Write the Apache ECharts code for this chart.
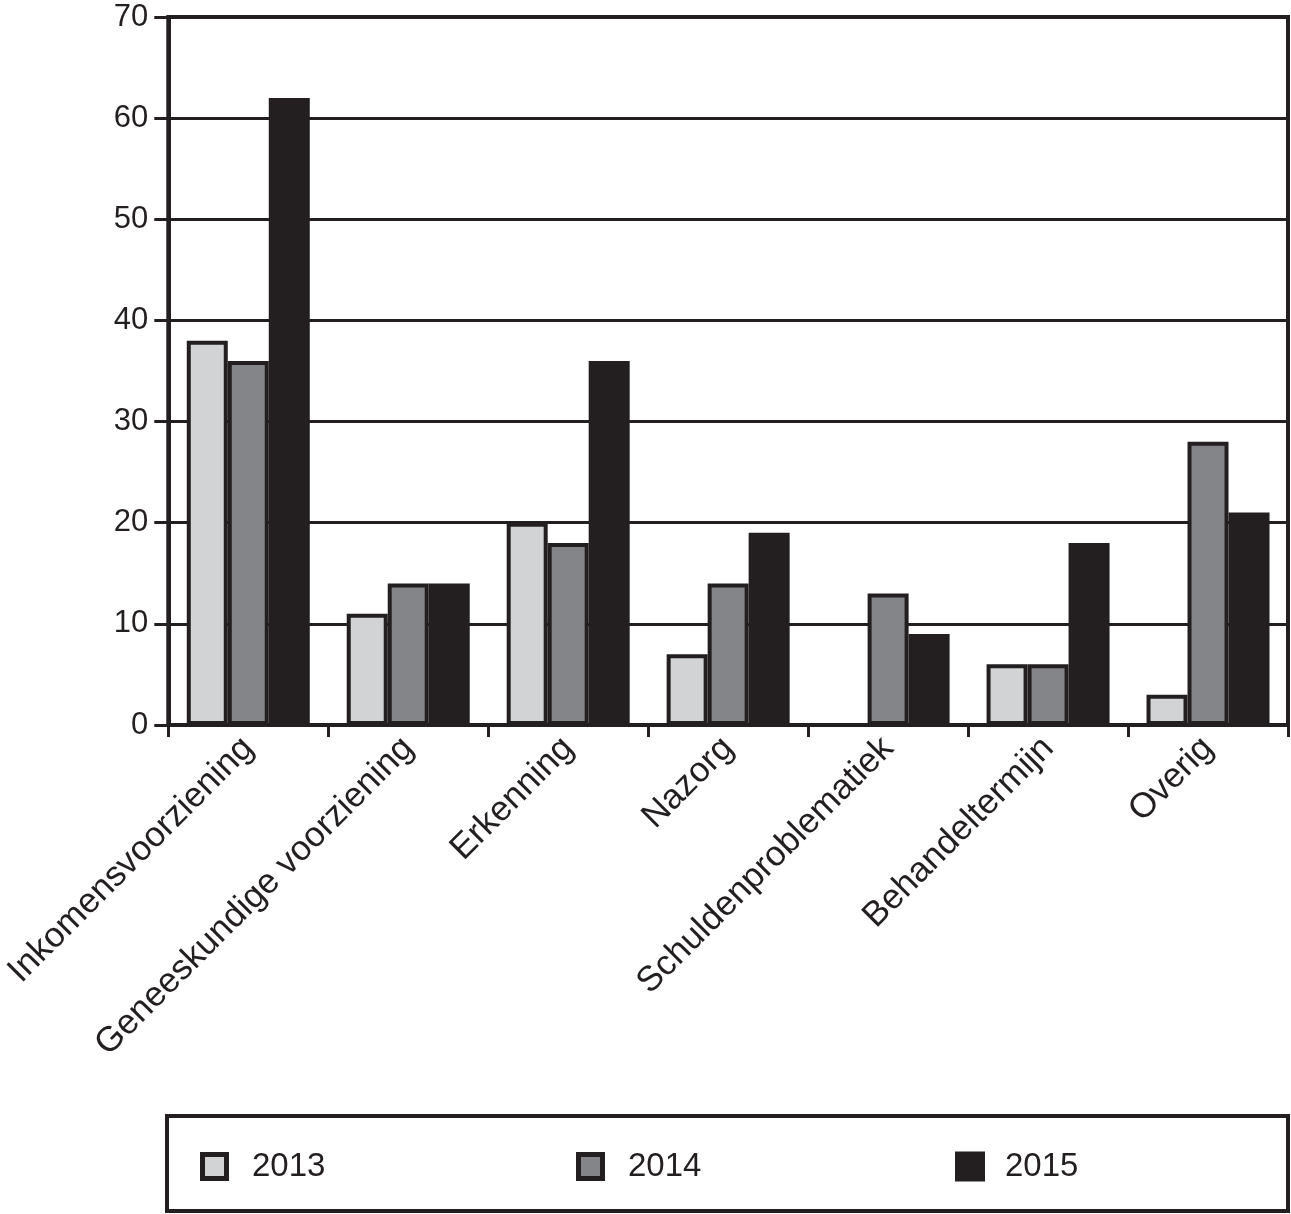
<!DOCTYPE html>
<html>
<head>
<meta charset="utf-8">
<script src="https://cdn.jsdelivr.net/npm/echarts@6/dist/echarts.min.js"></script>
<style>
html,body{margin:0;padding:0;background:#fff;}
#chart{width:1291px;height:1214px;}
</style>
</head>
<body>
<div id="chart"></div>
<script>
const categories = ['Inkomensvoorziening','Geneeskundige voorziening','Erkenning','Nazorg','Schuldenproblematiek','Behandeltermijn','Overig'];
const seriesNames = ['2013','2014','2015'];
const values2013 = [38, 11, 20, 7, 0, 6, 3];
const values2014 = [36, 14, 18, 14, 13, 6, 28];
const values2015 = [62, 14, 36, 19, 9, 18, 21];
const yTicks = [0, 10, 20, 30, 40, 50, 60, 70];

const dark = '#231f20';
const colors = ['#d1d3d4', '#838588', dark];
const font = '"Liberation Sans", Arial, Helvetica, sans-serif';
const allValues = [values2013, values2014, values2015];

function boxIcon(fill, size, border) {
  const half = border / 2;
  const svg = "<svg xmlns='http://www.w3.org/2000/svg' width='" + size + "' height='" + size + "'>" +
    "<rect x='" + half + "' y='" + half + "' width='" + (size - border) + "' height='" + (size - border) +
    "' fill='" + fill + "' stroke='" + dark + "' stroke-width='" + border + "'/></svg>";
  return 'image://data:image/svg+xml;charset=utf-8,' + encodeURIComponent(svg);
}

const chart = echarts.init(document.getElementById('chart'), null, {renderer: 'canvas'});

const legendSpecs = [
  {left: 200, top: 1150, size: 29, border: 5, pad: 18},
  {left: 576, top: 1150, size: 29, border: 5, pad: 18},
  {left: 955, top: 1150, size: 30, border: 0, pad: 15}
];

chart.setOption({
  animation: false,
  backgroundColor: '#fff',
  grid: {
    left: 167, right: 3, top: 17, bottom: 489,
    show: true, borderColor: dark, borderWidth: 4, backgroundColor: 'transparent'
  },
  legend: seriesNames.map((n, i) => ({
    data: [{name: n, icon: legendSpecs[i].border ? boxIcon(colors[i], legendSpecs[i].size, legendSpecs[i].border) : 'rect'}],
    left: legendSpecs[i].left,
    top: legendSpecs[i].top,
    padding: 0,
    itemWidth: legendSpecs[i].size,
    itemHeight: legendSpecs[i].size,
    itemStyle: {borderWidth: 0},
    textStyle: {fontFamily: font, fontSize: 33, color: dark, padding: [0, 0, 0, legendSpecs[i].pad]},
    selectedMode: false
  })),
  xAxis: {
    type: 'category',
    data: categories,
    axisLine: {lineStyle: {color: dark, width: 4}},
    axisTick: {show: true, length: 12, lineStyle: {color: dark, width: 3}},
    axisLabel: {rotate: 45, fontFamily: font, fontSize: 35, color: dark, margin: 18, interval: 0},
    splitLine: {show: false}
  },
  yAxis: {
    type: 'value',
    min: yTicks[0], max: yTicks[yTicks.length - 1], interval: 10,
    axisLine: {show: true, lineStyle: {color: dark, width: 4}},
    axisTick: {show: true, length: 14, lineStyle: {color: dark, width: 3}},
    axisLabel: {fontFamily: font, fontSize: 31, color: dark, margin: 20},
    splitLine: {show: true, lineStyle: {color: dark, width: 3}}
  },
  series: seriesNames.map((n, i) => ({
    name: n,
    type: 'bar',
    data: allValues[i],
    barWidth: 41,
    barGap: '0%',
    itemStyle: {
      color: colors[i],
      borderColor: dark,
      borderWidth: i < 2 ? 4 : 0
    }
  })),
  graphic: [{
    type: 'rect',
    shape: {x: 167, y: 1116, width: 1121, height: 95},
    style: {fill: 'none', stroke: dark, lineWidth: 4},
    silent: true
  }]
});
</script>
</body>
</html>
